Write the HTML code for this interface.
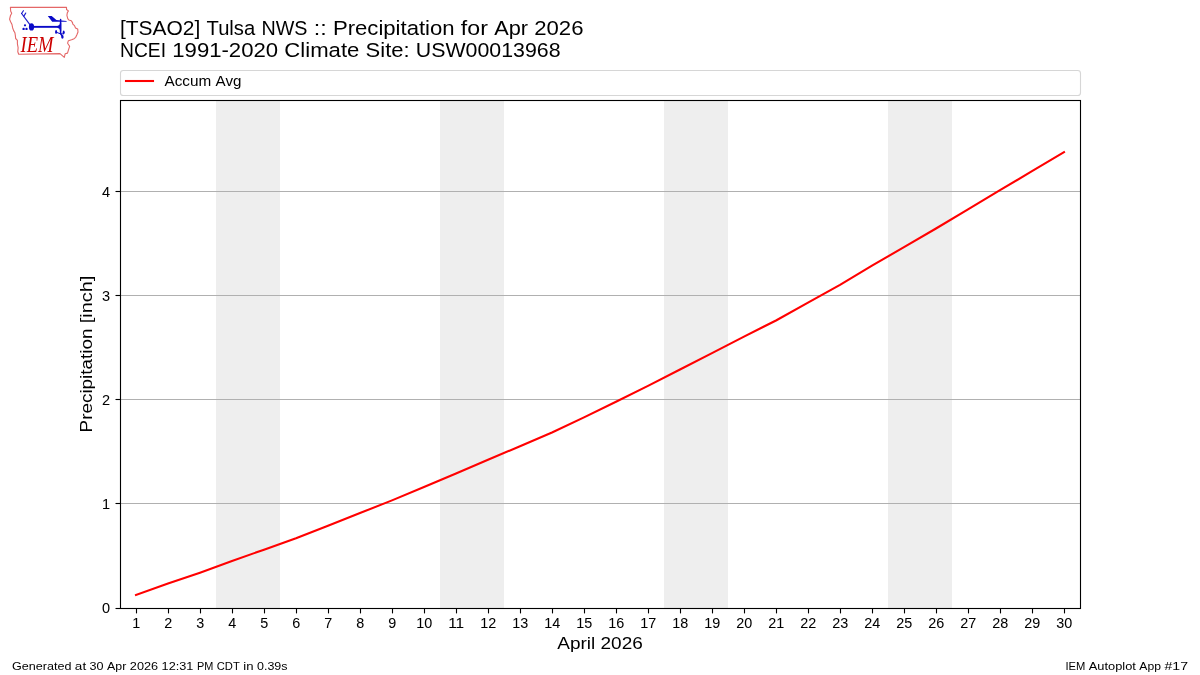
<!DOCTYPE html>
<html lang="en"><head><meta charset="utf-8"><title>IEM Autoplot App #17</title>
<style>html,body{margin:0;padding:0;background:#fff;}body{width:1200px;height:675px;overflow:hidden;font-family:"Liberation Sans",sans-serif;}svg{display:block;will-change:transform;}text{font-family:"Liberation Sans",sans-serif;fill:#000;}.ser{font-family:"Liberation Serif",serif;}</style></head><body>
<svg width="1200" height="675" viewBox="0 0 1200 675">
<rect x="0" y="0" width="1200" height="675" fill="#ffffff"/>
<g id="logo">
<path d="M10.4,7.4 L66.5,7.2 L66.5,9.5 L68.4,10.9 L67.3,12.8 L66.9,15.3 L67.75,18.6 L68.8,20.05 L71.3,20.7 L72.5,22.6 L72.8,24.2 L74.5,25.6 L75.5,28 L77.7,29.1 L78,32 L76.9,34.8 L75.7,37.3 L74.1,38.7 L71.6,39.8 L68.4,40.7 L67.6,43.2 L69.6,46.3 L68.4,50.2 L67.5,53.1 L65.2,53.7 L64.3,57.4 L62,55.4 L60,53.6 L18.7,54.3 L17.8,51.7 L18.1,47.7 L17.4,43.8 L17.4,40.3 L15.65,38.5 L15.4,35.9 L14.9,32.7 L13.65,30.6 L12.6,27.7 L12,24.5 L10.6,21.7 L9.6,19.2 L10.5,15.5 L11.7,13.3 L10.7,11.2 Z" fill="none" stroke="#dc3c3c" stroke-width="1.1" stroke-opacity="0.78" stroke-linejoin="round"/>
<g stroke="#0a0ac8" fill="none" stroke-linecap="round">
<path d="M21.6,13.5 L31.2,26.4" stroke-width="1.25" stroke-opacity="0.9"/>
<path d="M21.6,13.5 L23.4,10.7 M23.9,16.1 L25.7,13.1" stroke-width="1.15" stroke-opacity="0.9"/>
<path d="M31.4,26.85 L59,26.85" stroke-width="1.9" stroke-linecap="butt"/>
<path d="M60.6,19.6 L60.6,33.6 L62.2,36.2" stroke-width="1.5" stroke-linejoin="round"/>
<path d="M56.8,32.4 L60.4,33.8 L63.4,33.9" stroke-width="1" stroke-linejoin="round"/>
</g>
<g fill="#0a0ac8">
<ellipse cx="31.5" cy="26.9" rx="2.6" ry="3.6"/>
<circle cx="25" cy="25.3" r="1.1"/><circle cx="23.6" cy="28.9" r="1.2"/><circle cx="26.5" cy="28.9" r="1.2"/>
<path d="M47.8,15.9 L51.7,15.9 L56.4,20 L66.6,21 L66.6,21.7 L52.2,21.7 Z"/>
<path d="M57.4,26 Q60,25.4 60.2,22.8 L61.2,22.8 L61.2,30.9 L60.2,30.9 Q60,28.3 57.4,27.7 Z"/>
<ellipse cx="56.1" cy="31.9" rx="1.05" ry="1.9"/>
<ellipse cx="63.7" cy="32.3" rx="1" ry="1.9"/>
<ellipse cx="62.4" cy="36.9" rx="1.2" ry="1.8"/>
</g>
<text class="ser" x="20.6" y="51.6" font-size="22.4" font-style="italic" textLength="32.9" lengthAdjust="spacingAndGlyphs" style="font-family:'Liberation Serif',serif;fill:#cc0000">IEM</text>
</g>

<text x="120.00" y="35.25" font-size="19.9" textLength="80.32" lengthAdjust="spacingAndGlyphs">[TSAO2]</text><text x="206.56" y="35.25" font-size="19.9" textLength="48.64" lengthAdjust="spacingAndGlyphs">Tulsa</text><text x="261.44" y="35.25" font-size="19.9" textLength="46.02" lengthAdjust="spacingAndGlyphs">NWS</text><text x="313.69" y="35.25" font-size="19.9" textLength="12.97" lengthAdjust="spacingAndGlyphs">::</text><text x="332.91" y="35.25" font-size="19.9" textLength="121.73" lengthAdjust="spacingAndGlyphs">Precipitation</text><text x="460.87" y="35.25" font-size="19.9" textLength="27.06" lengthAdjust="spacingAndGlyphs">for</text><text x="494.18" y="35.25" font-size="19.9" textLength="33.81" lengthAdjust="spacingAndGlyphs">Apr</text><text x="534.21" y="35.25" font-size="19.9" textLength="49.27" lengthAdjust="spacingAndGlyphs">2026</text>
<text x="120.00" y="56.9" font-size="19.9" textLength="46.00" lengthAdjust="spacingAndGlyphs">NCEI</text><text x="172.25" y="56.9" font-size="19.9" textLength="105.88" lengthAdjust="spacingAndGlyphs">1991-2020</text><text x="284.38" y="56.9" font-size="19.9" textLength="75.00" lengthAdjust="spacingAndGlyphs">Climate</text><text x="365.62" y="56.9" font-size="19.9" textLength="44.00" lengthAdjust="spacingAndGlyphs">Site:</text><text x="415.88" y="56.9" font-size="19.9" textLength="144.62" lengthAdjust="spacingAndGlyphs">USW00013968</text>
<rect x="120.5" y="70.5" width="960" height="25" rx="2.8" ry="2.8" fill="#ffffff" stroke="#cccccc" stroke-opacity="0.8" stroke-width="1.11"/>
<line x1="124.95" y1="81" x2="154.05" y2="81" stroke="#ff0000" stroke-width="2.083"/>
<text x="164.44" y="85.6" font-size="14.15" textLength="46.75" lengthAdjust="spacingAndGlyphs">Accum</text><text x="215.56" y="85.6" font-size="14.15" textLength="25.88" lengthAdjust="spacingAndGlyphs">Avg</text>
<rect x="216" y="101" width="64" height="507.5" fill="#eeeeee"/>
<rect x="440" y="101" width="64" height="507.5" fill="#eeeeee"/>
<rect x="664" y="101" width="64" height="507.5" fill="#eeeeee"/>
<rect x="888" y="101" width="64" height="507.5" fill="#eeeeee"/>
<line x1="120.5" y1="503.5" x2="1080.5" y2="503.5" stroke="#b0b0b0" stroke-width="1.11"/>
<line x1="120.5" y1="399.5" x2="1080.5" y2="399.5" stroke="#b0b0b0" stroke-width="1.11"/>
<line x1="120.5" y1="295.5" x2="1080.5" y2="295.5" stroke="#b0b0b0" stroke-width="1.11"/>
<line x1="120.5" y1="191.5" x2="1080.5" y2="191.5" stroke="#b0b0b0" stroke-width="1.11"/>
<polyline points="136.00,595.02 168.00,583.57 200.00,572.65 232.00,561.00 264.00,549.66 296.00,538.32 328.00,525.84 360.00,513.04 392.00,500.35 424.00,487.03 456.00,473.51 488.00,459.78 520.00,446.25 552.00,432.52 584.00,417.33 616.00,401.73 648.00,385.81 680.00,369.48 712.00,353.15 744.00,336.61 776.00,320.48 808.00,302.59 840.00,284.80 872.00,265.66 904.00,247.14 936.00,228.52 968.00,209.27 1000.00,190.13 1032.00,171.20 1064.00,152.16" fill="none" stroke="#ff0000" stroke-width="2.083" stroke-linejoin="round" stroke-linecap="square"/>
<line x1="136.5" y1="608" x2="136.5" y2="613.4" stroke="#000" stroke-width="1.11"/>
<line x1="168.5" y1="608" x2="168.5" y2="613.4" stroke="#000" stroke-width="1.11"/>
<line x1="200.5" y1="608" x2="200.5" y2="613.4" stroke="#000" stroke-width="1.11"/>
<line x1="232.5" y1="608" x2="232.5" y2="613.4" stroke="#000" stroke-width="1.11"/>
<line x1="264.5" y1="608" x2="264.5" y2="613.4" stroke="#000" stroke-width="1.11"/>
<line x1="296.5" y1="608" x2="296.5" y2="613.4" stroke="#000" stroke-width="1.11"/>
<line x1="328.5" y1="608" x2="328.5" y2="613.4" stroke="#000" stroke-width="1.11"/>
<line x1="360.5" y1="608" x2="360.5" y2="613.4" stroke="#000" stroke-width="1.11"/>
<line x1="392.5" y1="608" x2="392.5" y2="613.4" stroke="#000" stroke-width="1.11"/>
<line x1="424.5" y1="608" x2="424.5" y2="613.4" stroke="#000" stroke-width="1.11"/>
<line x1="456.5" y1="608" x2="456.5" y2="613.4" stroke="#000" stroke-width="1.11"/>
<line x1="488.5" y1="608" x2="488.5" y2="613.4" stroke="#000" stroke-width="1.11"/>
<line x1="520.5" y1="608" x2="520.5" y2="613.4" stroke="#000" stroke-width="1.11"/>
<line x1="552.5" y1="608" x2="552.5" y2="613.4" stroke="#000" stroke-width="1.11"/>
<line x1="584.5" y1="608" x2="584.5" y2="613.4" stroke="#000" stroke-width="1.11"/>
<line x1="616.5" y1="608" x2="616.5" y2="613.4" stroke="#000" stroke-width="1.11"/>
<line x1="648.5" y1="608" x2="648.5" y2="613.4" stroke="#000" stroke-width="1.11"/>
<line x1="680.5" y1="608" x2="680.5" y2="613.4" stroke="#000" stroke-width="1.11"/>
<line x1="712.5" y1="608" x2="712.5" y2="613.4" stroke="#000" stroke-width="1.11"/>
<line x1="744.5" y1="608" x2="744.5" y2="613.4" stroke="#000" stroke-width="1.11"/>
<line x1="776.5" y1="608" x2="776.5" y2="613.4" stroke="#000" stroke-width="1.11"/>
<line x1="808.5" y1="608" x2="808.5" y2="613.4" stroke="#000" stroke-width="1.11"/>
<line x1="840.5" y1="608" x2="840.5" y2="613.4" stroke="#000" stroke-width="1.11"/>
<line x1="872.5" y1="608" x2="872.5" y2="613.4" stroke="#000" stroke-width="1.11"/>
<line x1="904.5" y1="608" x2="904.5" y2="613.4" stroke="#000" stroke-width="1.11"/>
<line x1="936.5" y1="608" x2="936.5" y2="613.4" stroke="#000" stroke-width="1.11"/>
<line x1="968.5" y1="608" x2="968.5" y2="613.4" stroke="#000" stroke-width="1.11"/>
<line x1="1000.5" y1="608" x2="1000.5" y2="613.4" stroke="#000" stroke-width="1.11"/>
<line x1="1032.5" y1="608" x2="1032.5" y2="613.4" stroke="#000" stroke-width="1.11"/>
<line x1="1064.5" y1="608" x2="1064.5" y2="613.4" stroke="#000" stroke-width="1.11"/>
<line x1="115.5" y1="608.5" x2="120.5" y2="608.5" stroke="#000" stroke-width="1.11"/>
<line x1="115.5" y1="503.5" x2="120.5" y2="503.5" stroke="#000" stroke-width="1.11"/>
<line x1="115.5" y1="399.5" x2="120.5" y2="399.5" stroke="#000" stroke-width="1.11"/>
<line x1="115.5" y1="295.5" x2="120.5" y2="295.5" stroke="#000" stroke-width="1.11"/>
<line x1="115.5" y1="191.5" x2="120.5" y2="191.5" stroke="#000" stroke-width="1.11"/>
<rect x="120.5" y="100.5" width="960" height="508" fill="none" stroke="#000" stroke-width="1.11"/>
<text x="136.2" y="628" font-size="14.15" stroke="#000" stroke-width="0.03" text-anchor="middle" textLength="8" lengthAdjust="spacingAndGlyphs">1</text>
<text x="168.2" y="628" font-size="14.15" stroke="#000" stroke-width="0.03" text-anchor="middle" textLength="8" lengthAdjust="spacingAndGlyphs">2</text>
<text x="200.2" y="628" font-size="14.15" stroke="#000" stroke-width="0.03" text-anchor="middle" textLength="8" lengthAdjust="spacingAndGlyphs">3</text>
<text x="232.2" y="628" font-size="14.15" stroke="#000" stroke-width="0.03" text-anchor="middle" textLength="8" lengthAdjust="spacingAndGlyphs">4</text>
<text x="264.2" y="628" font-size="14.15" stroke="#000" stroke-width="0.03" text-anchor="middle" textLength="8" lengthAdjust="spacingAndGlyphs">5</text>
<text x="296.2" y="628" font-size="14.15" stroke="#000" stroke-width="0.03" text-anchor="middle" textLength="8" lengthAdjust="spacingAndGlyphs">6</text>
<text x="328.2" y="628" font-size="14.15" stroke="#000" stroke-width="0.03" text-anchor="middle" textLength="8" lengthAdjust="spacingAndGlyphs">7</text>
<text x="360.2" y="628" font-size="14.15" stroke="#000" stroke-width="0.03" text-anchor="middle" textLength="8" lengthAdjust="spacingAndGlyphs">8</text>
<text x="392.2" y="628" font-size="14.15" stroke="#000" stroke-width="0.03" text-anchor="middle" textLength="8" lengthAdjust="spacingAndGlyphs">9</text>
<text x="424.2" y="628" font-size="14.15" stroke="#000" stroke-width="0.03" text-anchor="middle" textLength="16" lengthAdjust="spacingAndGlyphs">10</text>
<text x="456.2" y="628" font-size="14.15" stroke="#000" stroke-width="0.03" text-anchor="middle" textLength="16" lengthAdjust="spacingAndGlyphs">11</text>
<text x="488.2" y="628" font-size="14.15" stroke="#000" stroke-width="0.03" text-anchor="middle" textLength="16" lengthAdjust="spacingAndGlyphs">12</text>
<text x="520.2" y="628" font-size="14.15" stroke="#000" stroke-width="0.03" text-anchor="middle" textLength="16" lengthAdjust="spacingAndGlyphs">13</text>
<text x="552.2" y="628" font-size="14.15" stroke="#000" stroke-width="0.03" text-anchor="middle" textLength="16" lengthAdjust="spacingAndGlyphs">14</text>
<text x="584.2" y="628" font-size="14.15" stroke="#000" stroke-width="0.03" text-anchor="middle" textLength="16" lengthAdjust="spacingAndGlyphs">15</text>
<text x="616.2" y="628" font-size="14.15" stroke="#000" stroke-width="0.03" text-anchor="middle" textLength="16" lengthAdjust="spacingAndGlyphs">16</text>
<text x="648.2" y="628" font-size="14.15" stroke="#000" stroke-width="0.03" text-anchor="middle" textLength="16" lengthAdjust="spacingAndGlyphs">17</text>
<text x="680.2" y="628" font-size="14.15" stroke="#000" stroke-width="0.03" text-anchor="middle" textLength="16" lengthAdjust="spacingAndGlyphs">18</text>
<text x="712.2" y="628" font-size="14.15" stroke="#000" stroke-width="0.03" text-anchor="middle" textLength="16" lengthAdjust="spacingAndGlyphs">19</text>
<text x="744.2" y="628" font-size="14.15" stroke="#000" stroke-width="0.03" text-anchor="middle" textLength="16" lengthAdjust="spacingAndGlyphs">20</text>
<text x="776.2" y="628" font-size="14.15" stroke="#000" stroke-width="0.03" text-anchor="middle" textLength="16" lengthAdjust="spacingAndGlyphs">21</text>
<text x="808.2" y="628" font-size="14.15" stroke="#000" stroke-width="0.03" text-anchor="middle" textLength="16" lengthAdjust="spacingAndGlyphs">22</text>
<text x="840.2" y="628" font-size="14.15" stroke="#000" stroke-width="0.03" text-anchor="middle" textLength="16" lengthAdjust="spacingAndGlyphs">23</text>
<text x="872.2" y="628" font-size="14.15" stroke="#000" stroke-width="0.03" text-anchor="middle" textLength="16" lengthAdjust="spacingAndGlyphs">24</text>
<text x="904.2" y="628" font-size="14.15" stroke="#000" stroke-width="0.03" text-anchor="middle" textLength="16" lengthAdjust="spacingAndGlyphs">25</text>
<text x="936.2" y="628" font-size="14.15" stroke="#000" stroke-width="0.03" text-anchor="middle" textLength="16" lengthAdjust="spacingAndGlyphs">26</text>
<text x="968.2" y="628" font-size="14.15" stroke="#000" stroke-width="0.03" text-anchor="middle" textLength="16" lengthAdjust="spacingAndGlyphs">27</text>
<text x="1000.2" y="628" font-size="14.15" stroke="#000" stroke-width="0.03" text-anchor="middle" textLength="16" lengthAdjust="spacingAndGlyphs">28</text>
<text x="1032.2" y="628" font-size="14.15" stroke="#000" stroke-width="0.03" text-anchor="middle" textLength="16" lengthAdjust="spacingAndGlyphs">29</text>
<text x="1064.2" y="628" font-size="14.15" stroke="#000" stroke-width="0.03" text-anchor="middle" textLength="16" lengthAdjust="spacingAndGlyphs">30</text>
<text x="110" y="613.1" font-size="14.15" stroke="#000" stroke-width="0.03" text-anchor="end" textLength="8.1" lengthAdjust="spacingAndGlyphs">0</text>
<text x="110" y="509.1" font-size="14.15" stroke="#000" stroke-width="0.03" text-anchor="end" textLength="8.1" lengthAdjust="spacingAndGlyphs">1</text>
<text x="110" y="405.1" font-size="14.15" stroke="#000" stroke-width="0.03" text-anchor="end" textLength="8.1" lengthAdjust="spacingAndGlyphs">2</text>
<text x="110" y="301.1" font-size="14.15" stroke="#000" stroke-width="0.03" text-anchor="end" textLength="8.1" lengthAdjust="spacingAndGlyphs">3</text>
<text x="110" y="197.1" font-size="14.15" stroke="#000" stroke-width="0.03" text-anchor="end" textLength="8.1" lengthAdjust="spacingAndGlyphs">4</text>
<text x="557.25" y="648.75" font-size="16" textLength="38.00" lengthAdjust="spacingAndGlyphs">April</text><text x="600.50" y="648.75" font-size="16" textLength="42.25" lengthAdjust="spacingAndGlyphs">2026</text>
<g transform="translate(91.5,354) rotate(-90)"><text x="-78.44" y="0" font-size="16" textLength="103.88" lengthAdjust="spacingAndGlyphs">Precipitation</text><text x="30.68" y="0" font-size="16" textLength="47.75" lengthAdjust="spacingAndGlyphs">[inch]</text></g>
<text x="12.00" y="669.6" font-size="11.3" textLength="59.38" lengthAdjust="spacingAndGlyphs">Generated</text><text x="74.88" y="669.6" font-size="11.3" textLength="11.25" lengthAdjust="spacingAndGlyphs">at</text><text x="89.62" y="669.6" font-size="11.3" textLength="14.00" lengthAdjust="spacingAndGlyphs">30</text><text x="107.12" y="669.6" font-size="11.3" textLength="19.25" lengthAdjust="spacingAndGlyphs">Apr</text><text x="129.88" y="669.6" font-size="11.3" textLength="28.25" lengthAdjust="spacingAndGlyphs">2026</text><text x="161.62" y="669.6" font-size="11.3" textLength="31.75" lengthAdjust="spacingAndGlyphs">12:31</text><text x="196.88" y="669.6" font-size="11.3" textLength="16.38" lengthAdjust="spacingAndGlyphs">PM</text><text x="216.75" y="669.6" font-size="11.3" textLength="23.00" lengthAdjust="spacingAndGlyphs">CDT</text><text x="243.25" y="669.6" font-size="11.3" textLength="10.25" lengthAdjust="spacingAndGlyphs">in</text><text x="257.00" y="669.6" font-size="11.3" textLength="30.50" lengthAdjust="spacingAndGlyphs">0.39s</text>
<text x="1065.38" y="669.6" font-size="11.3" textLength="19.88" lengthAdjust="spacingAndGlyphs">IEM</text><text x="1088.76" y="669.6" font-size="11.3" textLength="47.12" lengthAdjust="spacingAndGlyphs">Autoplot</text><text x="1139.38" y="669.6" font-size="11.3" textLength="21.62" lengthAdjust="spacingAndGlyphs">App</text><text x="1164.50" y="669.6" font-size="11.3" textLength="23.50" lengthAdjust="spacingAndGlyphs">#17</text>
</svg></body></html>
